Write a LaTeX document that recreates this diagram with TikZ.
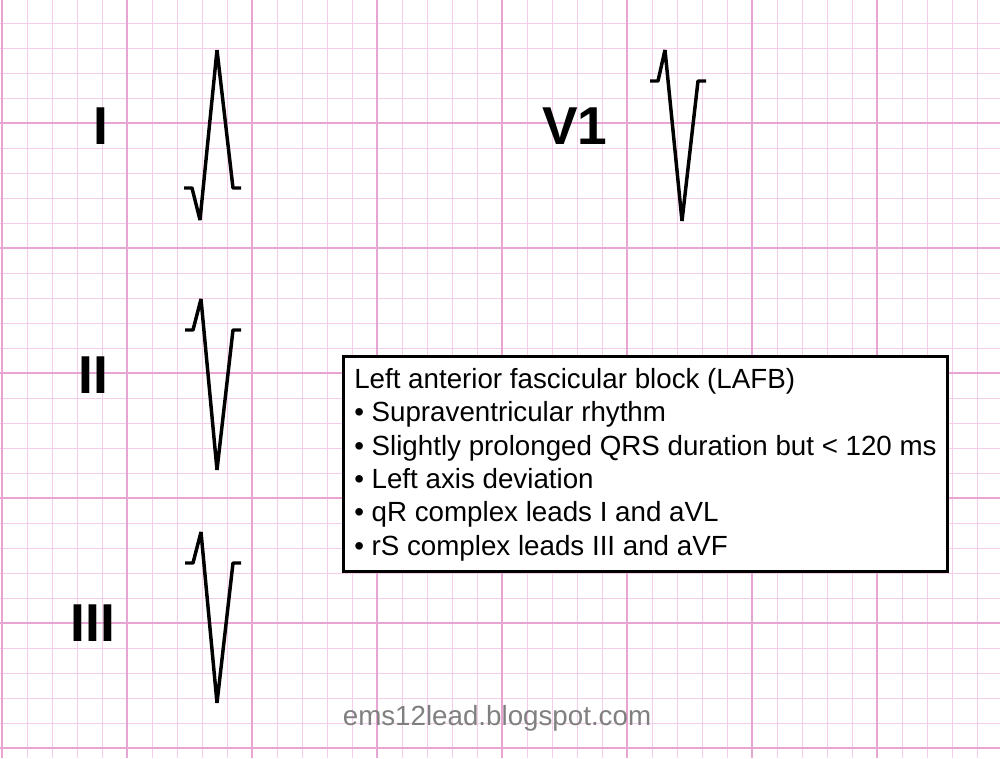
\documentclass[tikz,border=0pt]{standalone}
\usepackage{fontspec}
\setmainfont{Liberation Sans}
\begin{document}
\begin{tikzpicture}[x=0.75pt,y=-0.75pt,
  wave/.style={line width=2.6pt,line join=bevel},
  lead/.style={font=\fontsize{40}{40}\selectfont\bfseries,anchor=center},
  minorg/.style={draw={rgb,255:red,245;green,205;blue,232},line width=0.6pt},
  majorg/.style={draw={rgb,255:red,232;green,165;blue,212},line width=1.1pt}]
\useasboundingbox (0,0) rectangle (1000,758);
\fill[white] (0,0) rectangle (1000,758);
\foreach \i in {0,...,40}{\draw[minorg] (2+25*\i,0) -- (2+25*\i,758);}
\foreach \i in {0,...,31}{\draw[minorg] (0,-2+25*\i) -- (1000,-2+25*\i);}
\foreach \i in {0,...,8}{\draw[majorg] (2+125*\i,0) -- (2+125*\i,758);}
\foreach \i in {0,...,6}{\draw[majorg] (0,-2+125*\i) -- (1000,-2+125*\i);}
\node[lead] (lI) at (101,126) {I};
\node[lead] (lV) at (575,126) {V1};
\node[lead] (lII) at (93,375) {II};
\node[lead] (lIII) at (93,623) {III};
\draw[wave] (184,188) -- (192,188) -- (200,220) -- (217,50) -- (233,188) -- (241,188);
\draw[wave] (650,81) -- (658,81) -- (665,50) -- (682,221) -- (698,81) -- (706,81);
\draw[wave] (185,330) -- (193,330) -- (201,299) -- (217,470) -- (233,330) -- (241,330);
\draw[wave] (185,563) -- (193,563) -- (201,532) -- (217,703) -- (233,563) -- (241,563);
\node[draw,line width=2.2pt,fill=white,minimum width=604*0.75pt,minimum height=215*0.75pt,anchor=north west] (box) at (342,355) {};
\node[anchor=north west,align=left,font=\fontsize{20.8}{25}\selectfont,inner sep=0pt] (txt) at (354,368) {Left anterior fascicular block (LAFB)\\
\textbullet{} Supraventricular rhythm\\
\textbullet{} Slightly prolonged QRS duration but < 120 ms\\
\textbullet{} Left axis deviation\\
\textbullet{} qR complex leads I and aVL\\
\textbullet{} rS complex leads III and aVF};
\node[font=\fontsize{20.8}{22}\selectfont,text=gray] (foot) at (497,718) {ems12lead.blogspot.com};
\end{tikzpicture}
\end{document}
